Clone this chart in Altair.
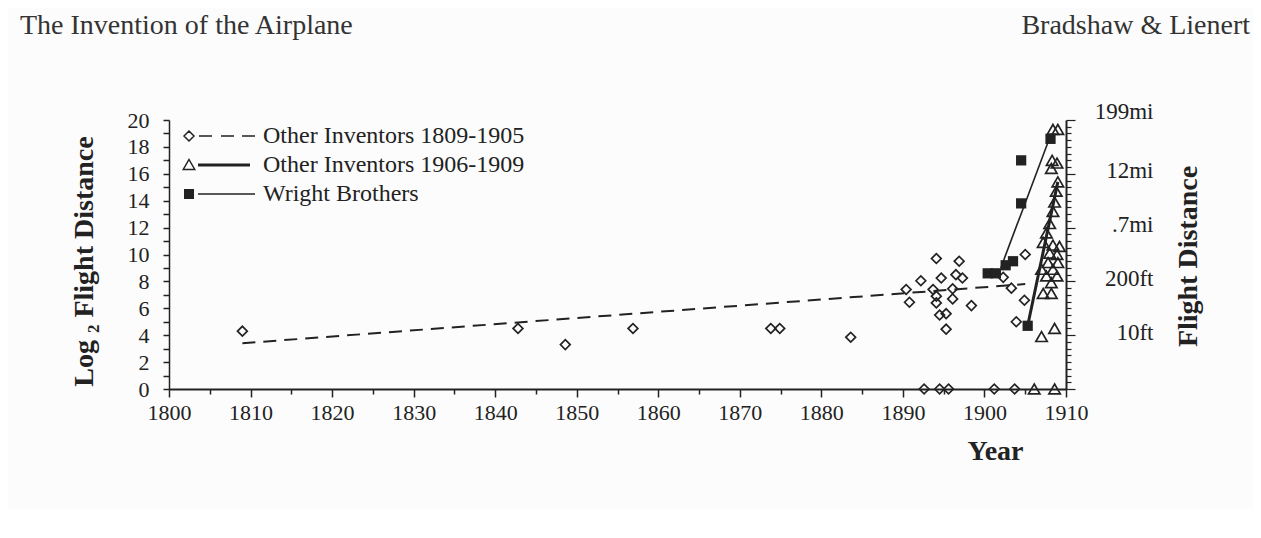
import altair as alt
import pandas as pd

FONT = "Liberation Serif"
INK = "#222222"

# ---------------- data ----------------
series_names = ["Other Inventors 1809-1905", "Other Inventors 1906-1909", "Wright Brothers"]
header_left = ["The Invention of the Airplane"]
header_right = ["Bradshaw & Lienert"]

diamond_year = [1809.0, 1842.8, 1848.6, 1856.9, 1873.8, 1874.9, 1883.6,
                1890.4, 1890.8, 1892.2, 1893.7, 1894.1, 1894.1, 1894.1, 1894.5, 1894.7,
                1895.3, 1895.3, 1896.1, 1896.1, 1896.5, 1896.9, 1897.3, 1898.4,
                1902.3, 1903.3, 1903.9, 1904.9, 1905.0,
                1892.6, 1894.5, 1895.6, 1901.2, 1903.7]
diamond_val = [4.3, 4.5, 3.3, 4.5, 4.5, 4.5, 3.85,
               7.4, 6.45, 8.05, 7.4, 9.7, 6.9, 6.4, 5.5, 8.25,
               5.6, 4.45, 7.45, 6.7, 8.5, 9.5, 8.25, 6.2,
               8.3, 7.5, 5.0, 6.6, 10.0,
               0.0, 0.0, 0.0, 0.0, 0.0]

triangle_year = [1908.4, 1909.0, 1908.3, 1908.9, 1908.2,
                 1909.0, 1908.8, 1908.6, 1908.4, 1908.0, 1907.6, 1907.2,
                 1908.4, 1909.2, 1908.0, 1908.9, 1907.8, 1909.0, 1908.4, 1907.0,
                 1907.6, 1908.9, 1908.2, 1907.2, 1908.2, 1908.6, 1907.0,
                 1906.1, 1908.6]
triangle_val = [19.3, 19.3, 17.0, 16.8, 16.4,
                15.4, 14.7, 13.9, 13.2, 12.3, 11.6, 10.9,
                10.7, 10.6, 10.1, 10.0, 9.4, 9.4, 8.9, 8.9,
                8.4, 8.4, 7.9, 7.1, 7.1, 4.5, 3.9,
                0.0, 0.0]

square_year = [1900.4, 1901.4, 1902.6, 1903.5, 1904.5, 1904.5, 1905.3, 1908.1]
square_val = [8.6, 8.6, 9.2, 9.5, 13.8, 17.0, 4.7, 18.6]

early_trend_year = [1809.0, 1905.0]
early_trend_val = [3.4, 7.8]
late_trend_year = [1905.3, 1909.0]
late_trend_val = [4.7, 15.4]
wright_trend_year = [1902.0, 1908.2]
wright_trend_val = [9.0, 19.0]

x_tick_values = list(range(1800, 1911, 5))
y_left_tick_values = list(range(0, 21))
y_right_tick_values = [i / 2 for i in range(41)]
right_label_values = [20, 16, 12, 8, 4]
right_label_texts = ["199mi", "12mi", ".7mi", "200ft", "10ft"]

# ---------------- legend glyphs (marker + line sample) ----------------
def seg(x0, x1, y=0.0):
    return f"M{x0},{y}L{x1},{y}"

mk = -7.0
diamond_glyph = (f"M{mk-1.0},0L{mk},-1.0L{mk+1.0},0L{mk},1.0Z"
                 + seg(-5.0, -2.4) + seg(-0.6, 2.0) + seg(3.6, 6.2))
triangle_glyph = (f"M{mk},-1.1L{mk+1.15},0.9L{mk-1.15},0.9Z"
                  + seg(-5.2, 5.2, -0.14) + seg(-5.2, 5.2, 0) + seg(-5.2, 5.2, 0.14))
square_glyph = (f"M{mk-0.85},-0.85L{mk+0.85},-0.85L{mk+0.85},0.85L{mk-0.85},0.85Z"
                + "".join(seg(mk - 0.85, mk + 0.85, y) for y in [-0.6, -0.3, 0, 0.3, 0.6])
                + seg(-5.2, 6.2))

# ---------------- encodings ----------------
x_enc = alt.X("year:Q",
              scale=alt.Scale(domain=[1800, 1910], nice=False, zero=False),
              axis=alt.Axis(values=x_tick_values, format="d", labelFlush=False,
                            labelExpr="datum.value % 10 === 0 ? datum.label : ''",
                            tickSize={"condition": {"test": "datum.value % 10 === 0", "value": 8}, "value": 5},
                            labelPadding=5, labelFontSize=22, domainWidth=2, tickWidth=1.5,
                            title="Year", titleFontSize=28, titleFontWeight="bold",
                            titleX=826, titleY=48, titleAlign="center", titleBaseline="top"))

y_scale = alt.Scale(domain=[0, 20], nice=False, zero=True)
y_enc = alt.Y("val:Q", scale=y_scale,
              axis=alt.Axis(values=y_left_tick_values,
                            labelExpr="datum.value % 2 === 0 ? datum.label : ''",
                            tickSize=6, labelPadding=14, labelFontSize=22,
                            domainWidth=1.5, tickWidth=1.5,
                            title="Log ₂ Flight Distance", titleFontSize=28, titleFontWeight="bold",
                            titleAngle=270, titleX=-77, titleY=141, titleAlign="center",
                            titleBaseline="alphabetic"))

def frame(xs, ys):
    return pd.DataFrame({"year": xs, "val": ys})

early_line = alt.Chart(frame(early_trend_year, early_trend_val)).mark_line(
    color=INK, strokeWidth=2, strokeDash=[13, 8]).encode(x=x_enc, y=y_enc)
late_line = alt.Chart(frame(late_trend_year, late_trend_val)).mark_line(
    color=INK, strokeWidth=3).encode(x=x_enc, y=y_enc)
wright_line = alt.Chart(frame(wright_trend_year, wright_trend_val)).mark_line(
    color=INK, strokeWidth=1.6).encode(x=x_enc, y=y_enc)

diamonds = alt.Chart(frame(diamond_year, diamond_val)).mark_point(
    shape="diamond", size=95, filled=False, color=INK, strokeWidth=1.7, opacity=1).encode(x=x_enc, y=y_enc)
triangles = alt.Chart(frame(triangle_year, triangle_val)).mark_point(
    shape="triangle-up", size=130, filled=False, color=INK, strokeWidth=1.7, opacity=1).encode(x=x_enc, y=y_enc)
squares = alt.Chart(frame(square_year, square_val)).mark_point(
    shape="square", size=105, filled=True, color=INK, opacity=1).encode(x=x_enc, y=y_enc)

legend_layer = alt.Chart(pd.DataFrame({"series": series_names})).mark_point(
    filled=False, color=INK, strokeWidth=1.5, opacity=1).encode(
    shape=alt.Shape("series:N",
                    scale=alt.Scale(domain=series_names,
                                    range=[diamond_glyph, triangle_glyph, square_glyph]),
                    legend=alt.Legend(orient="none", legendX=43, legendY=4, title=None,
                                      symbolSize=100, symbolStrokeWidth=1.5,
                                      symbolStrokeColor=INK, labelOffset=27,
                                      labelFont=FONT, labelFontSize=24, labelColor=INK,
                                      labelLimit=500, rowPadding=5, padding=0))
).transform_filter("false")

head_l = alt.Chart(pd.DataFrame({"t": header_left})).mark_text(
    align="left", baseline="alphabetic", font=FONT, fontSize=28, color="#333333").encode(
    text="t:N", x=alt.value(20 - 169), y=alt.value(34 - 120))
head_r = alt.Chart(pd.DataFrame({"t": header_right})).mark_text(
    align="right", baseline="alphabetic", font=FONT, fontSize=28, color="#333333").encode(
    text="t:N", x=alt.value(1250 - 169), y=alt.value(34 - 120))

inner = alt.layer(early_line, late_line, wright_line, diamonds, triangles, squares,
                  legend_layer, head_l, head_r)

right_label_expr = " : ".join(
    f"datum.value === {v} ? '{t}'" for v, t in zip(right_label_values, right_label_texts)) + " : ''"

right_layer = alt.Chart(pd.DataFrame({"val": right_label_values})).mark_point(opacity=0).encode(
    y=alt.Y("val:Q", scale=y_scale,
            axis=alt.Axis(orient="right", values=y_right_tick_values, labelExpr=right_label_expr,
                          tickSize={"condition": {"test": "datum.value % 4 === 0", "value": 9}, "value": 5},
                          labelAlign="right", labelBaseline="middle", labelPadding=78,
                          labelOffset={"condition": {"test": "datum.value === 20", "value": -9}, "value": -3},
                          labelFontSize=23, domainWidth=2, tickWidth=1.2,
                          title="Flight Distance", titleFontSize=28, titleFontWeight="bold",
                          titleAngle=270, titleX=108, titleY=136, titleAlign="center",
                          titleBaseline="top"))
).transform_filter("false")

chart = alt.layer(inner, right_layer).resolve_scale(y="independent").properties(
    width=897, height=269,
    autosize=alt.AutoSizeParams(type="none"),
    padding={"left": 161, "top": 112, "right": 187, "bottom": 120},
    background="#fcfcfc",
).configure_view(stroke=None).configure_axis(
    labelFont=FONT, titleFont=FONT, labelColor=INK, titleColor=INK,
    domainColor=INK, tickColor=INK, grid=False,
)

chart.save("out.html", embed_options={"renderer": "svg", "actions": False})
